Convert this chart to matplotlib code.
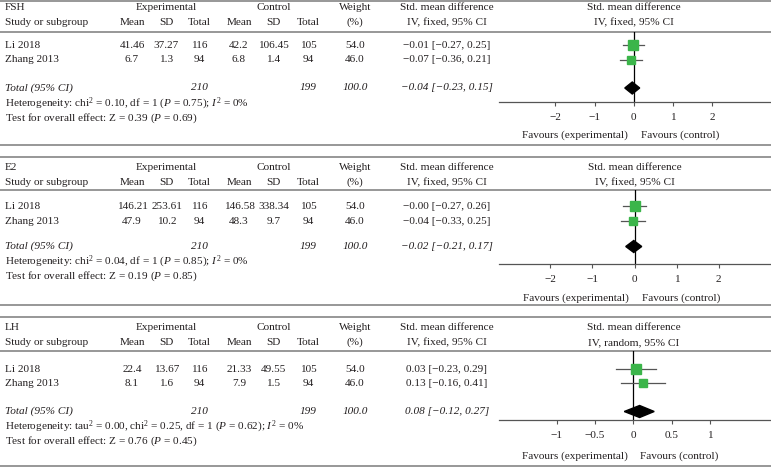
import matplotlib.pyplot as plt
from matplotlib.patches import Polygon
from matplotlib.ticker import FixedLocator, FuncFormatter

plt.rcParams['font.family'] = 'Liberation Serif'
plt.rcParams['mathtext.fontset'] = 'custom'
plt.rcParams['mathtext.rm'] = 'Liberation Serif'
plt.rcParams['mathtext.it'] = 'Liberation Serif:italic'

# Data
outcomes = ['FSH', 'E2', 'LH']
studies = ['Li 2018', 'Zhang 2013']
exp_mean = [['41.46', '6.7'], ['146.21', '47.9'], ['22.4', '8.1']]
exp_sd = [['37.27', '1.3'], ['253.61', '10.2'], ['13.67', '1.6']]
exp_n = [116, 94]
ctl_mean = [['42.2', '6.8'], ['146.58', '48.3'], ['21.33', '7.9']]
ctl_sd = [['106.45', '1.4'], ['338.34', '9.7'], ['49.55', '1.5']]
ctl_n = [105, 94]
weights = [54.0, 46.0]
smd = [[-0.01, -0.07], [-0.00, -0.04], [0.03, 0.13]]
ci_lo = [[-0.27, -0.36], [-0.27, -0.33], [-0.23, -0.16]]
ci_hi = [[0.25, 0.21], [0.26, 0.25], [0.29, 0.41]]
total_smd = [-0.04, -0.02, 0.08]
total_lo = [-0.23, -0.21, -0.12]
total_hi = [0.15, 0.17, 0.27]
heterogeneity = [
    r'Heterogeneity: chi$^2$ = 0.10, df = 1 ($P$ = 0.75); $I^2$ = 0%',
    r'Heterogeneity: chi$^2$ = 0.04, df = 1 ($P$ = 0.85); $I^2$ = 0%',
    r'Heterogeneity: tau$^2$ = 0.00, chi$^2$ = 0.25, df = 1 ($P$ = 0.62); $I^2$ = 0%',
]
overall = [
    r'Test for overall effect: Z = 0.39 ($P$ = 0.69)',
    r'Test for overall effect: Z = 0.19 ($P$ = 0.85)',
    r'Test for overall effect: Z = 0.76 ($P$ = 0.45)',
]
plot_methods = ['IV, fixed, 95% CI', 'IV, fixed, 95% CI', 'IV, random, 95% CI']
xticks = [[-2, -1, 0, 1, 2], [-2, -1, 0, 1, 2], [-1, -0.5, 0, 0.5, 1]]
xlims = [(-3.43, 3.49), (-3.22, 3.24), (-1.75, 1.79)]

# layout in pixels (figure is 771 x 469)
W, H = 771, 469
layout = [
    dict(top=1.5, title=8, head=22.5, hline=32, row0=45, sp=15, tot=88, het=103.5,
         test=118, axis=102, fav=135, bottom=145),
    dict(top=157, title=167.5, head=182.5, hline=190, row0=206.5, sp=14.5, tot=246.5,
         het=262, test=276.5, axis=263.5, fav=298, bottom=305.5),
    dict(top=317, title=327.5, head=342.5, hline=351, row0=369, sp=14.2, tot=411.5,
         het=427, test=441.5, axis=420, fav=456.5, bottom=466.5),
]
col_x = dict(study=5, em=132, esd=166.5, en=199, cm=239, csd=273.5, cn=308, w=355, smd=447)
forest_x0 = 499

txt_color = '#231f20'
line_color = '#7a7a7a'
green = '#3bb54a'
fs = 8.1


def fmt(v):
    return f'{v:.2f}'.replace('-', '\u2212')


def fmt_tick(v, pos=None):
    return f'{v:g}'.replace('-', '\u2212')


fig = plt.figure(figsize=(W / 100, H / 100), dpi=100)
base = fig.add_axes([0, 0, 1, 1])
base.set_xlim(0, W)
base.set_ylim(H, 0)
base.axis('off')


def put(x, y, s, ha='center', style='normal'):
    base.text(x, y, s, ha=ha, va='center', fontsize=fs, color=txt_color, style=style)


for k, name in enumerate(outcomes):
    L = layout[k]
    for y in (L['top'], L['hline'], L['bottom']):
        base.axhline(y, color=line_color, lw=1.1)

    # header rows
    put(col_x['study'], L['title'], name, ha='left')
    put(col_x['esd'], L['title'], 'Experimental')
    put(col_x['csd'], L['title'], 'Control')
    put(col_x['w'], L['title'], 'Weight')
    put(col_x['smd'], L['title'], 'Std. mean difference')
    put(col_x['study'], L['head'], 'Study or subgroup', ha='left')
    for c, s in zip(['em', 'esd', 'en', 'cm', 'csd', 'cn', 'w', 'smd'],
                    ['Mean', 'SD', 'Total', 'Mean', 'SD', 'Total', '(%)', 'IV, fixed, 95% CI']):
        put(col_x[c], L['head'], s)

    # study rows
    for i, st in enumerate(studies):
        y = L['row0'] + i * L['sp']
        put(col_x['study'], y, st, ha='left')
        put(col_x['em'], y, exp_mean[k][i])
        put(col_x['esd'], y, exp_sd[k][i])
        put(col_x['en'], y, str(exp_n[i]))
        put(col_x['cm'], y, ctl_mean[k][i])
        put(col_x['csd'], y, ctl_sd[k][i])
        put(col_x['cn'], y, str(ctl_n[i]))
        put(col_x['w'], y, f'{weights[i]:.1f}')
        put(col_x['smd'], y, f'{fmt(smd[k][i])} [{fmt(ci_lo[k][i])}, {fmt(ci_hi[k][i])}]')

    # total row
    yt = L['tot']
    put(col_x['study'], yt, 'Total (95% CI)', ha='left', style='italic')
    put(col_x['en'], yt, str(sum(exp_n)), style='italic')
    put(col_x['cn'], yt, str(sum(ctl_n)), style='italic')
    put(col_x['w'], yt, f'{sum(weights):.1f}', style='italic')
    put(col_x['smd'], yt, f'{fmt(total_smd[k])} [{fmt(total_lo[k])}, {fmt(total_hi[k])}]',
        style='italic')
    put(col_x['study'], L['het'], heterogeneity[k], ha='left')
    put(col_x['study'], L['test'], overall[k], ha='left')

    # forest plot axes (y in row units, row 0 = first study)
    ax = fig.add_axes([forest_x0 / W, 1 - L['axis'] / H, (W - forest_x0) / W,
                       (L['axis'] - L['hline']) / H])
    ax.patch.set_alpha(0)
    ax.set_xlim(*xlims[k])
    ax.set_ylim((L['axis'] - L['row0']) / L['sp'], (L['hline'] - L['row0']) / L['sp'])
    for sp_name in ('top', 'right', 'left'):
        ax.spines[sp_name].set_visible(False)
    ax.spines['bottom'].set_color('#555555')
    ax.spines['bottom'].set_linewidth(0.9)
    ax.set_yticks([])
    ax.xaxis.set_major_locator(FixedLocator(xticks[k]))
    ax.xaxis.set_major_formatter(FuncFormatter(fmt_tick))
    ax.tick_params(axis='x', direction='out', length=3, width=0.8, color='#555555',
                   labelsize=fs, labelcolor=txt_color, pad=5)
    ax.axvline(0, color='black', lw=0.9, zorder=1)

    for i in range(len(studies)):
        ax.plot([ci_lo[k][i], ci_hi[k][i]], [i, i], color='#555555', lw=0.9, zorder=2)
        ax.plot(smd[k][i], i, marker='s', color=green, ms=5.5 + 2.0 * weights[i] / 100,
                mec=green, zorder=3)
    yd = (L['tot'] - L['row0']) / L['sp']
    h = 6.0 / L['sp']
    ax.add_patch(Polygon([(total_lo[k], yd), (total_smd[k], yd - h), (total_hi[k], yd),
                          (total_smd[k], yd + h)], closed=True, color='black', zorder=3))

    x_zero = forest_x0 + (0 - xlims[k][0]) / (xlims[k][1] - xlims[k][0]) * (W - forest_x0)
    put(x_zero, L['title'], 'Std. mean difference')
    put(x_zero, L['head'], plot_methods[k])
    put(x_zero - 6, L['fav'], 'Favours (experimental)', ha='right')
    put(x_zero + 7, L['fav'], 'Favours (control)', ha='left')

fig.savefig('out.png', dpi=100)
